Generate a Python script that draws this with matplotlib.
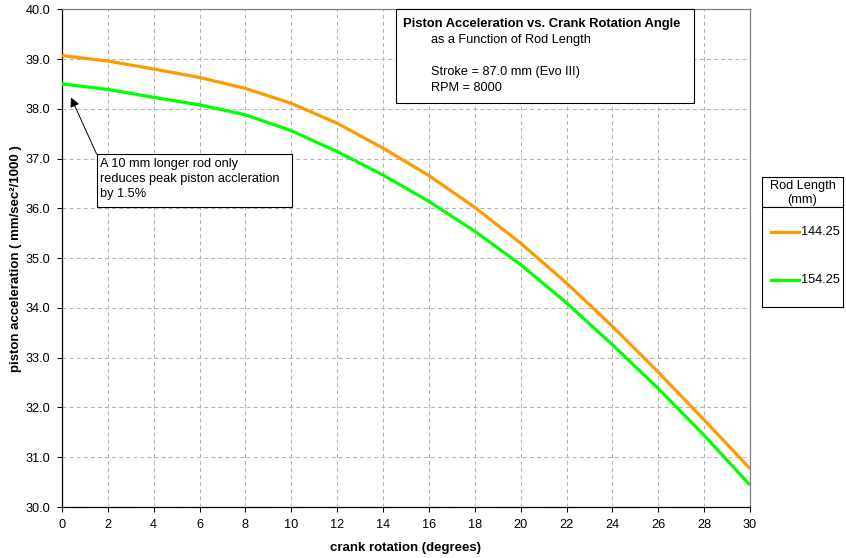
import matplotlib
matplotlib.use('Agg')
import matplotlib.pyplot as plt
from matplotlib.patches import Rectangle
from matplotlib.lines import Line2D

# ---- data ----
crank_angle = [0, 2, 4, 6, 8, 10, 12, 14, 16, 18, 20, 22, 24, 26, 28, 30]
accel_144_25 = [39.07, 38.96, 38.80, 38.63, 38.41, 38.11, 37.71, 37.21,
                36.66, 36.02, 35.30, 34.50, 33.63, 32.71, 31.75, 30.77]
accel_154_25 = [38.50, 38.39, 38.23, 38.08, 37.88, 37.56, 37.14, 36.67,
                36.14, 35.54, 34.87, 34.10, 33.26, 32.38, 31.44, 30.44]
series_labels = ['144.25', '154.25']
series_colors = ['#FF9900', '#00FF00']
x_ticks = list(range(0, 31, 2))
y_ticks = [30, 31, 32, 33, 34, 35, 36, 37, 38, 39, 40]

plt.rcParams['font.family'] = ['Liberation Sans', 'DejaVu Sans']
plt.rcParams['lines.scale_dashes'] = False

W, H = 846, 558
fig = plt.figure(figsize=(W / 100, H / 100), dpi=100)


def fx(px):
    return px / W


def fy(py):
    return 1 - py / H


L, R, T, B = 62, 750, 9.3, 507
ax = fig.add_axes([fx(L), fy(B), fx(R) - fx(L), fy(T) - fy(B)])

lines = []
for vals, lab, col in zip([accel_144_25, accel_154_25], series_labels, series_colors):
    ln, = ax.plot(crank_angle, vals, color=col, lw=2.3, label=lab,
                  solid_joinstyle='round', solid_capstyle='butt', zorder=3)
    lines.append(ln)

ax.set_xlim(0, 30)
ax.set_ylim(30, 40)
ax.set_xticks(x_ticks)
ax.set_yticks(y_ticks)
ax.set_yticklabels([f'{v:.1f}' for v in y_ticks])
ax.tick_params(axis='both', direction='out', length=3.4, width=0.75,
               pad=5, labelsize=9.2, colors='black')
ax.grid(True, color='#b4b4b4', linestyle=(0, (2.9, 2.2)), linewidth=0.75, zorder=1)
ax.set_axisbelow(True)
for s in ['left', 'bottom']:
    ax.spines[s].set_color('black')
    ax.spines[s].set_linewidth(0.9)
for s in ['top', 'right']:
    ax.spines[s].set_color('#808080')
    ax.spines[s].set_linewidth(0.9)

ax.set_xlabel('crank rotation (degrees)', fontsize=9.5, fontweight='bold', va='center')
ax.xaxis.set_label_coords(0.5, (B - 548) / (B - T))
ax.set_ylabel('piston acceleration ( mm/sec\u00b2/1000 )', fontsize=9.5,
              fontweight='bold', va='center')
ax.yaxis.set_label_coords((15.5 - L) / (R - L), 0.5)

# ---- title box ----
fig.patches.append(Rectangle((fx(396), fy(103)), fx(694) - fx(396), fy(9.3) - fy(103),
                             transform=fig.transFigure, facecolor='white',
                             edgecolor='black', lw=0.8, zorder=2))
fig.text(fx(402.5), fy(23.5), 'Piston Acceleration vs. Crank Rotation Angle',
         fontsize=9.4, fontweight='bold', ha='left', va='center', zorder=4)
fig.text(fx(430.5), fy(40), 'as a Function of Rod Length', fontsize=9.2,
         ha='left', va='center', zorder=4)
fig.text(fx(430.5), fy(72), 'Stroke = 87.0 mm (Evo III)', fontsize=9.2,
         ha='left', va='center', zorder=4)
fig.text(fx(430.5), fy(88), 'RPM = 8000', fontsize=9.2,
         ha='left', va='center', zorder=4)

# ---- annotation box + arrow ----
fig.patches.append(Rectangle((fx(97), fy(207)), fx(292) - fx(97), fy(154) - fy(207),
                             transform=fig.transFigure, facecolor='white',
                             edgecolor='black', lw=0.8, zorder=2))
for txt, yy in [('A 10 mm longer rod only', 163.5),
                ('reduces peak piston accleration', 179),
                ('by 1.5%', 194.5)]:
    fig.text(fx(100), fy(yy), txt, fontsize=9.2, ha='left', va='center', zorder=4)

ax.annotate('', xy=(0.39, 38.23), xytext=(1.51, 37.09),
            arrowprops=dict(arrowstyle='-|>', color='black', lw=0.7,
                            mutation_scale=14, shrinkA=0, shrinkB=0),
            annotation_clip=False, zorder=5)

# ---- legend ----
fig.patches.append(Rectangle((fx(762), fy(207)), fx(843) - fx(762), fy(177) - fy(207),
                             transform=fig.transFigure, facecolor='white',
                             edgecolor='black', lw=0.8, zorder=2))
fig.patches.append(Rectangle((fx(762), fy(307)), fx(843) - fx(762), fy(207) - fy(307),
                             transform=fig.transFigure, facecolor='white',
                             edgecolor='black', lw=0.8, zorder=2))
fig.text(fx(802.5), fy(186), 'Rod Length', fontsize=9.2, ha='center', va='center', zorder=4)
fig.text(fx(802.5), fy(200.5), '(mm)', fontsize=9.2, ha='center', va='center', zorder=4)
for ln, yy in zip(lines, [231.7, 280.3]):
    fig.lines.append(Line2D([fx(771), fx(799)], [fy(yy), fy(yy)],
                            transform=fig.transFigure, color=ln.get_color(),
                            lw=2.3, zorder=4))
    fig.text(fx(800.5), fy(yy), ln.get_label(), fontsize=9.2, ha='left',
             va='center', zorder=4)

fig.savefig('out.png', dpi=100, facecolor='white')
